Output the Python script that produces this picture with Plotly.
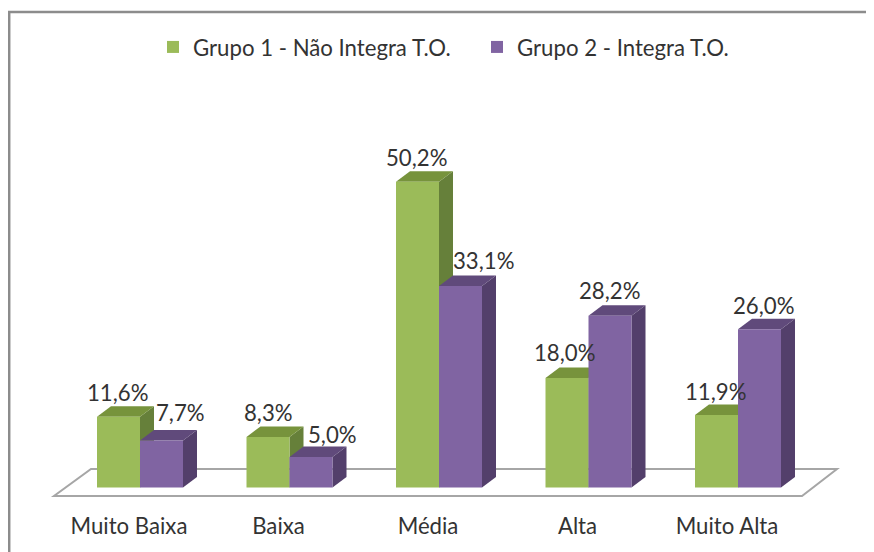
import plotly.graph_objects as go

categories = ["Muito Baixa", "Baixa", "Média", "Alta", "Muito Alta"]
grupo1 = [11.6, 8.3, 50.2, 18.0, 11.9]
grupo2 = [7.7, 5.0, 33.1, 28.2, 26.0]
labels1 = ["11,6%", "8,3%", "50,2%", "18,0%", "11,9%"]
labels2 = ["7,7%", "5,0%", "33,1%", "28,2%", "26,0%"]
name1 = "Grupo 1 - Não Integra T.O."
name2 = "Grupo 2 - Integra T.O."

OFF = 8                      # the page puts the figure 8 px in from the window corner
W, H = 874 - OFF, 552 - OFF
PX_X, X0 = 149.5, 140.0 - OFF   # px per category, px of first category
PX_Y, Y0 = 6.09, 487.5 - OFF    # px per percent, px of value 0
PLOT_BOTTOM = 511 - OFF
FONT = "Lato"
FS = 22.2
TXT = "#333333"

def xd(px): return (px - X0) / PX_X
def yd(px): return (Y0 - px) / PX_Y

DX, DY = 14 / PX_X, 10.5 / PX_Y
BW = 43 / PX_X
idx = list(range(len(categories)))
TICK_SHIFT = -11 / PX_X

G, P = "#9BBB59", "#8064A2"
G_TOP, G_SIDE = "#77933C", "#66803A"
P_TOP, P_SIDE = "#604A7B", "#533F6B"

def poly(pts):
    return "M" + " L".join(f"{x:.5f},{y:.5f}" for x, y in pts) + " Z"

shapes = []
# floor of the pseudo-3D chart
floor = [(54, 496), (802, 496), (837, 469), (91, 469)]
shapes.append(dict(type="path", xref="x", yref="y", layer="below",
                   path=poly([(xd(a - OFF), yd(b - OFF)) for a, b in floor]),
                   line=dict(color="#A6A6A6", width=2), fillcolor="white"))

def faces(i, v, left, top, side):
    r = left + BW
    return [
        dict(type="path", xref="x", yref="y", layer="below", line_width=0, fillcolor=side,
             path=poly([(r, 0), (r + DX, DY), (r + DX, v + DY), (r, v)])),
        dict(type="path", xref="x", yref="y", layer="below", line_width=0, fillcolor=top,
             path=poly([(left, v), (left + DX, v + DY), (r + DX, v + DY), (r, v)])),
    ]

for i in idx:
    shapes += faces(i, grupo1[i], i - BW, G_TOP, G_SIDE)
    shapes += faces(i, grupo2[i], i, P_TOP, P_SIDE)

# outer frame (left and top only)
shapes.append(dict(type="path", xref="paper", yref="paper", layer="above",
                   path=f"M{1.2/W},{-0.02} L{1.2/W},{1-4/H} L1.01,{1-4/H}",
                   line=dict(color="#8C8C8C", width=2.5)))

fig = go.Figure()
fig.add_bar(x=idx, y=grupo1, name=name1, marker=dict(color=G, line_width=0))
fig.add_bar(x=idx, y=grupo2, name=name2, marker=dict(color=P, line_width=0))

shift1 = [(-1, 24), (0, 24), (-1, 24), (-3, 25), (-1, 24)]
shift2 = [(19, 28), (21, 23), (23, 25), (-1, 25), (4, 24)]
ann = []
for i in idx:
    ann.append(dict(x=i - BW / 2, y=grupo1[i], text=labels1[i], showarrow=False,
                    xshift=shift1[i][0], yshift=shift1[i][1], yanchor="middle"))
    ann.append(dict(x=i + BW / 2, y=grupo2[i], text=labels2[i], showarrow=False,
                    xshift=shift2[i][0], yshift=shift2[i][1], yanchor="middle"))

fig.update_layout(
    width=W, height=H, margin=dict(l=0, r=0, t=0, b=0),
    paper_bgcolor="white", plot_bgcolor="rgba(0,0,0,0)",
    barmode="group", bargap=1 - 2 * BW, bargroupgap=0,
    font=dict(family=FONT, size=FS, color=TXT),
    shapes=shapes, annotations=ann, showlegend=True,
    legend=dict(orientation="h", x=(153 - OFF) / W, y=1 - (26 - OFF) / H, xanchor="left", yanchor="top",
                bgcolor="rgba(0,0,0,0)", font=dict(size=FS, family=FONT, color=TXT),
                entrywidth=279, entrywidthmode="pixels"),
    xaxis=dict(range=[xd(0), xd(W)], tickmode="array", tickvals=[i + TICK_SHIFT for i in idx],
               ticktext=categories, showgrid=False, zeroline=False, showline=False, ticks="",
               tickfont=dict(size=FS, family=FONT, color=TXT)),
    yaxis=dict(domain=[(H - PLOT_BOTTOM) / H, 1], range=[yd(PLOT_BOTTOM), yd(0)], visible=False),
)
fig.write_html("out.html")
